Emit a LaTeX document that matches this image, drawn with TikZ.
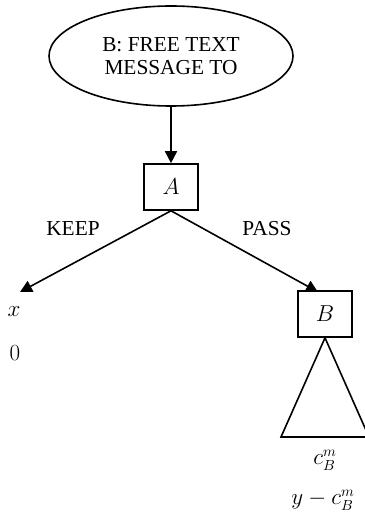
\documentclass[tikz,border=0pt]{standalone}
\usepackage{amsmath}
\usepackage{fontspec}
\setmainfont{Liberation Serif}
\usepackage{tikz}
\usetikzlibrary{arrows.meta,shapes.geometric}

\begin{document}
\begin{tikzpicture}[x=0.75pt,y=-0.75pt,font=\fontsize{16}{19}\selectfont,
	player/.style={rectangle,draw,line width=1.2pt,minimum width=54*0.75pt,minimum height=46*0.75pt},
	move/.style={line width=1.2pt,-{Triangle[length=9pt,width=9pt]}}]

	\useasboundingbox (0,0) rectangle (364,516);

	\node[ellipse,draw,line width=1.2pt,minimum width=244*0.75pt,minimum height=100*0.75pt,align=center,inner sep=0pt] (msg) at (171,56) {B: FREE TEXT\\[-2pt]MESSAGE TO};
	\node[player] (a) at (171,187) {$A$};
	\node[player] (b) at (325,314) {$B$};

	\coordinate (keepend) at (20,292);
	\coordinate (passend) at (318,292);
	\coordinate (tl) at (281,437);
	\coordinate (tr) at (369,437);

	\node (keep) at (73,229) {KEEP};
	\node (pass) at (267,229) {PASS};

	\node (x) at (14,312) {$x$};
	\node (zero) at (15,353) {$0$};
	\node (cbm) at (325,460) {$c_B^m$};
	\node (ycbm) at (323,500) {$y-c_B^m$};

	\path[move] (msg) edge (a);
	\path[move] (a.south) edge (keepend);
	\path[move] (a.south) edge (passend);

	\draw[line width=1.2pt] (b.south) -- (tl) -- (tr) -- cycle;

\end{tikzpicture}
\end{document}
